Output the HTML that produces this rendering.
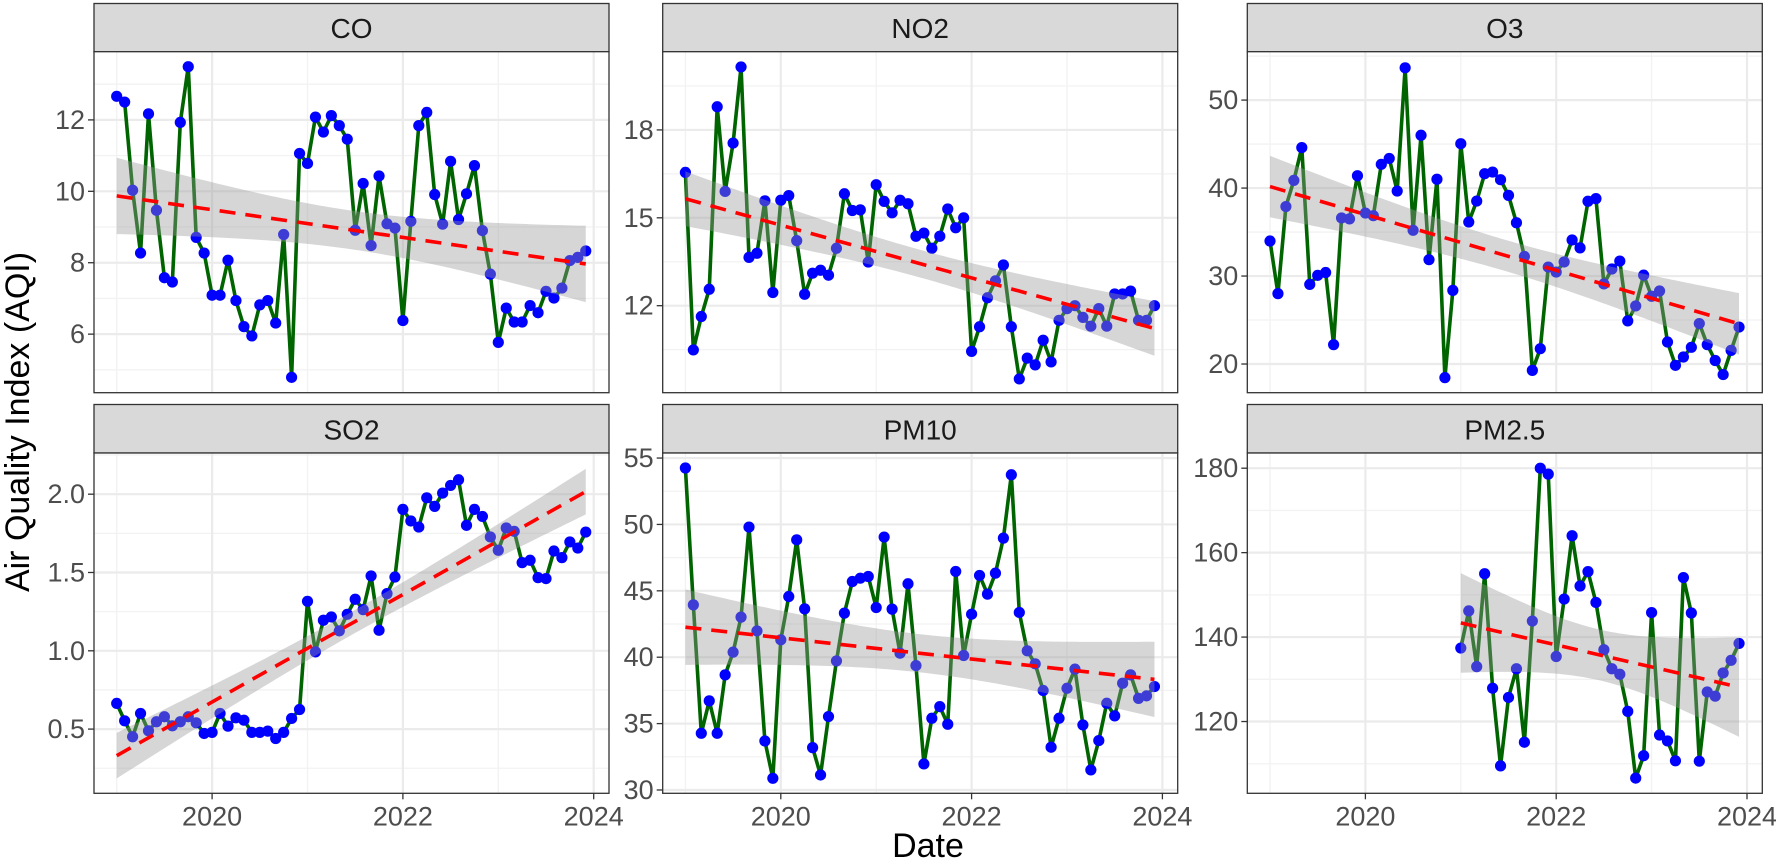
<!DOCTYPE html>
<html><head><meta charset="utf-8">
<style>
html,body{margin:0;padding:0;background:#fff;}
svg{display:block;font-family:"Liberation Sans",Arial,sans-serif;}
</style></head>
<body>
<svg id="chart" width="1776" height="867" viewBox="0 0 1776 867">
<text x="18" y="422" transform="rotate(-90 18 422)" text-anchor="middle" dominant-baseline="central" font-size="34" fill="#000">Air Quality Index (AQI)</text>
<text x="928" y="846" text-anchor="middle" dominant-baseline="central" font-size="34" fill="#000">Date</text>
</svg>
<script>
const panelNames = ["CO","NO2","O3","SO2","PM10","PM2.5"];
const coValues = [12.66,12.5,10.03,8.27,12.17,9.47,7.58,7.46,11.93,13.49,8.71,8.27,7.09,7.09,8.07,6.94,6.21,5.95,6.82,6.94,6.31,8.79,4.79,11.06,10.78,12.08,11.66,12.12,11.84,11.46,8.91,10.22,8.48,10.43,9.09,8.97,6.38,9.16,11.84,12.21,9.91,9.08,10.84,9.21,9.93,10.72,8.9,7.68,5.77,6.73,6.34,6.34,6.8,6.6,7.2,7.01,7.29,8.06,8.15,8.33];
const no2Values = [16.55,10.49,11.63,12.56,18.79,15.9,17.55,20.15,13.65,13.79,15.58,12.45,15.6,15.76,14.22,12.39,13.11,13.21,13.04,13.96,15.82,15.25,15.27,13.49,16.13,15.56,15.17,15.6,15.48,14.37,14.48,13.96,14.37,15.3,14.66,15.0,10.44,11.28,12.27,12.85,13.39,11.28,9.5,10.21,9.98,10.82,10.08,11.5,11.9,12.0,11.6,11.3,11.9,11.3,12.4,12.4,12.5,11.5,11.5,12.0];
const o3Values = [33.98,28.0,37.9,40.87,44.6,29.05,30.08,30.4,22.2,36.6,36.5,41.4,37.16,36.86,42.7,43.37,39.66,53.67,35.2,46.0,31.86,41.0,18.45,28.37,45.04,36.14,38.52,41.63,41.82,40.95,39.17,36.06,32.23,19.28,21.74,31.02,30.45,31.6,34.1,33.2,38.5,38.8,29.1,30.8,31.7,24.9,26.6,30.1,27.7,28.3,22.5,19.85,20.8,21.9,24.6,22.2,20.4,18.8,21.55,24.2];
const so2Values = [0.664,0.553,0.451,0.6,0.489,0.547,0.579,0.521,0.547,0.579,0.54,0.472,0.479,0.6,0.519,0.572,0.557,0.479,0.479,0.487,0.44,0.479,0.568,0.625,1.316,0.993,1.195,1.216,1.127,1.233,1.329,1.263,1.478,1.131,1.365,1.471,1.903,1.829,1.79,1.977,1.922,2.007,2.056,2.092,1.801,1.903,1.858,1.727,1.642,1.784,1.763,1.563,1.578,1.467,1.461,1.637,1.595,1.695,1.656,1.758];
const pm10Values = [54.25,43.94,34.27,36.71,34.27,38.67,40.38,43.02,49.8,41.98,33.69,30.88,41.31,44.57,48.84,43.64,33.19,31.13,35.53,39.72,43.32,45.7,45.95,46.08,43.74,49.05,43.62,40.3,45.53,39.37,31.96,35.4,36.28,34.95,46.46,40.13,43.24,46.16,44.75,46.33,48.97,53.74,43.37,40.48,39.5,37.49,33.22,35.4,37.66,39.1,34.9,31.51,33.72,36.53,35.58,38.04,38.67,36.9,37.09,37.79];
const pm25Values = [null,null,null,null,null,null,null,null,null,null,null,null,null,null,null,null,null,null,null,null,null,null,null,null,137.4,146.2,133.0,155.0,127.9,109.5,125.7,132.5,115.1,143.8,180.0,178.6,135.4,149.0,164.0,152.1,155.5,148.2,137.0,132.5,131.2,122.4,106.6,111.9,145.8,116.8,115.4,110.7,154.1,145.7,110.6,127.0,126.0,131.5,134.5,138.5];
const xTickLabels = ["2020","2022","2024"];
const coTicks = [6,8,10,12];
const no2Ticks = [12,15,18];
const o3Ticks = [20,30,40,50];
const so2Ticks = [0.5,1.0,1.5,2.0];
const pm10Ticks = [30,35,40,45,50,55];
const pm25Ticks = [120,140,160,180];

const NS="http://www.w3.org/2000/svg";
const svg=document.getElementById("chart");
function mk(tag,attrs,parent){const e=document.createElementNS(NS,tag);for(const k in attrs)e.setAttribute(k,attrs[k]);(parent||svg).appendChild(e);return e;}

const lefts=[94,662.7,1247.3], W=515;
const rows=[{st:3.5,top:51.7,bot:392.7},{st:404.5,top:453,bot:793.3}];
const panels=[
 {vals:coValues,ticks:coTicks,minor:[5,7,9,11,13],ymin:4.36,ymax:13.91,fmt:v=>String(v)},
 {vals:no2Values,ticks:no2Ticks,minor:[10.5,13.5,16.5,19.5],ymin:9.03,ymax:20.67,fmt:v=>String(v)},
 {vals:o3Values,ticks:o3Ticks,minor:[25,35,45,55],ymin:16.74,ymax:55.5,fmt:v=>String(v)},
 {vals:so2Values,ticks:so2Ticks,minor:[0.25,0.75,1.25,1.75,2.25],ymin:0.09,ymax:2.263,fmt:v=>v.toFixed(1)},
 {vals:pm10Values,ticks:pm10Ticks,minor:[32.5,37.5,42.5,47.5,52.5],ymin:29.75,ymax:55.38,fmt:v=>String(v)},
 {vals:pm25Values,ticks:pm25Ticks,minor:[110,130,150,170],ymin:103.0,ymax:183.6,fmt:v=>String(v)}
];
const majorYears=[2020,2022,2024], minorYears=[2019,2021,2023];

panels.forEach((p,k)=>{
  const col=k%3,row=rows[Math.floor(k/3)],L=lefts[col],R=L+W;
  const g=mk("g",{});
  
  
  const xs=yr=>L+22.7+(yr-2019)*95.4;
  const xi=i=>xs(2019+i/12);
  const ys=v=>row.bot-(v-p.ymin)/(p.ymax-p.ymin)*(row.bot-row.top);
  // strip
  const strip=mk("rect",{x:L,y:row.st,width:W,height:row.top-row.st,fill:"#d9d9d9",stroke:"#333","stroke-width":1.3},g);
  
  
  const st=mk("text",{x:L+W/2,y:(row.st+row.top)/2+1,"text-anchor":"middle","dominant-baseline":"central","font-size":28,fill:"#1a1a1a"},g);
  st.textContent=panelNames[k];
  
  
  mk("rect",{x:L,y:row.top,width:W,height:row.bot-row.top,fill:"#fff"},g);
  // gridlines
  p.minor.forEach(v=>{const y=ys(v);if(y>row.top&&y<row.bot){const l=mk("line",{x1:L,x2:R,y1:y,y2:y,stroke:"#f2f2f2","stroke-width":1.3},g);}});
  minorYears.forEach(yr=>{const l=mk("line",{x1:xs(yr),x2:xs(yr),y1:row.top,y2:row.bot,stroke:"#f2f2f2","stroke-width":1.3},g);});
  p.ticks.forEach(v=>{const y=ys(v);const l=mk("line",{x1:L,x2:R,y1:y,y2:y,stroke:"#ebebeb","stroke-width":2.2},g);
    const tk=mk("line",{x1:L-6,x2:L,y1:y,y2:y,stroke:"#333","stroke-width":1.3},g);
    const t=mk("text",{x:L-9,y:y,"text-anchor":"end","dominant-baseline":"central","font-size":27,fill:"#4d4d4d"},g);t.textContent=p.fmt(v);});
  majorYears.forEach((yr,j)=>{const x=xs(yr);const l=mk("line",{x1:x,x2:x,y1:row.top,y2:row.bot,stroke:"#ebebeb","stroke-width":2.2},g);
    if(k>=3){const tk=mk("line",{x1:x,x2:x,y1:row.bot,y2:row.bot+6,stroke:"#333","stroke-width":1.3},g);
      const t=mk("text",{x:x,y:row.bot+23,"text-anchor":"middle","dominant-baseline":"central","font-size":27,fill:"#4d4d4d"},g);t.textContent=xTickLabels[j];}});
  // data
  const pts=[];p.vals.forEach((v,i)=>{if(v!==null)pts.push([i,v]);});
  const line=mk("polyline",{points:pts.map(q=>xi(q[0])+","+ys(q[1])).join(" "),fill:"none",stroke:"#006400","stroke-width":3.6,"stroke-linejoin":"round"},g);
  
  
  pts.forEach(q=>{const c=mk("circle",{cx:xi(q[0]),cy:ys(q[1]),r:5.6,fill:"#0000ff"},g);});
  // regression
  const n=pts.length,mx=pts.reduce((s,q)=>s+q[0],0)/n,my=pts.reduce((s,q)=>s+q[1],0)/n;
  let sxx=0,sxy=0;pts.forEach(q=>{sxx+=(q[0]-mx)**2;sxy+=(q[0]-mx)*(q[1]-my);});
  const b=sxy/sxx,a=my-b*mx;let sse=0;pts.forEach(q=>{sse+=(q[1]-a-b*q[0])**2;});
  const s=Math.sqrt(sse/(n-2)),t=2.0;
  const x0=pts[0][0],x1=pts[n-1][0],up=[],lo=[];
  for(let i=x0;i<=x1;i+=0.5){const f=a+b*i,se=s*Math.sqrt(1/n+(i-mx)**2/sxx);up.push(xi(i)+","+ys(f+t*se));lo.unshift(xi(i)+","+ys(f-t*se));}
  const band=mk("polygon",{points:up.concat(lo).join(" "),fill:"#999999","fill-opacity":0.4},g);
  
  
  const tl=mk("line",{x1:xi(x0),y1:ys(a+b*x0),x2:xi(x1),y2:ys(a+b*x1),stroke:"#ff0000","stroke-width":3.6,"stroke-dasharray":"16 10"},g);
  
  
  const bd=mk("rect",{x:L,y:row.top,width:W,height:row.bot-row.top,fill:"none",stroke:"#333","stroke-width":1.3},g);
  
  
});
</script>
</body></html>
